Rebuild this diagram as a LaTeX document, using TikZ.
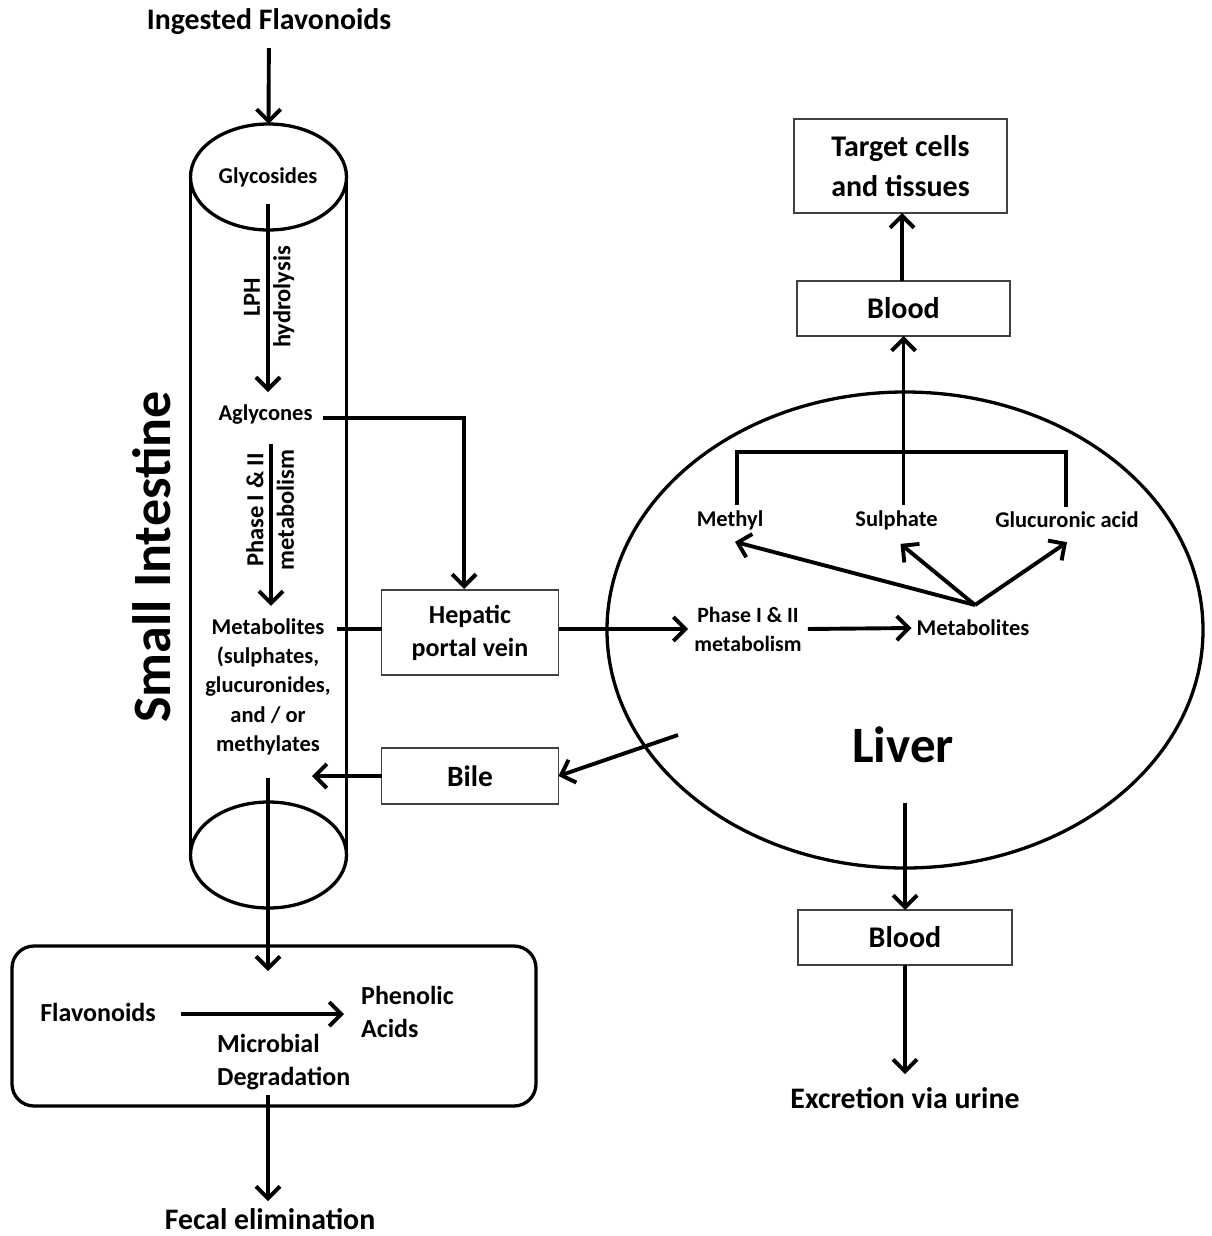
\documentclass[tikz,border=0pt]{standalone}
\usepackage{fontspec}
\setmainfont{Carlito}
\usetikzlibrary{arrows.meta,shapes.geometric,calc}

\tikzset{
  lbl/.style={font=\bfseries\fontsize{22.5}{29.4}\selectfont, inner sep=0pt, align=center},
  midlbl/.style={font=\bfseries\fontsize{26}{33}\selectfont, inner sep=0pt, align=left},
  biglbl/.style={font=\bfseries\fontsize{29.8}{40}\selectfont, inner sep=0pt, align=center},
  sidelbl/.style={font=\bfseries\fontsize{24.5}{30.5}\selectfont, rotate=90, align=center, inner sep=0pt},
  arr/.style={line width=3.9pt, -{Straight Barb[length=12pt,width=24pt,line width=3.9pt]}},
  link/.style={line width=3.9pt},
  rim/.style={draw, line width=3.3pt, ellipse, inner sep=0pt, outer sep=0pt},
  boxed/.style={draw=black!75, line width=1.4pt, minimum width=177pt, inner sep=0pt, outer sep=0pt,
                font=\bfseries\fontsize{26}{33}\selectfont, align=center},
  bloodbox/.style={boxed, minimum width=213pt, font=\bfseries\fontsize{30}{40}\selectfont},
}

\begin{document}
\begin{tikzpicture}[x=1pt,y=-1pt]
\useasboundingbox (0,0) rectangle (1211,1236);

% ---------- small intestine (cylinder) ----------
\node[rim, minimum width=156pt, minimum height=106pt] (topEll) at (268.5,177) {};
\node[rim, minimum width=156pt, minimum height=106pt] (botEll) at (268.5,855) {};
\draw[line width=3.3pt] (topEll.west) -- (botEll.west);
\draw[line width=3.3pt] (topEll.east) -- (botEll.east);

\node[font=\bfseries\fontsize{54}{60}\selectfont, rotate=90, inner sep=0pt] (si) at (152,557) {Small Intestine};

\node[biglbl] (ingest) at (269,22) {Ingested Flavonoids};
\draw[arr, shorten <=13pt] (ingest) -- (topEll.north);

\node[lbl] (glyc) at (268,177) {Glycosides};
\node[lbl] (agly) at (265.5,415) {Aglycones};
\draw[arr, shorten <=17pt, shorten >=13pt] (glyc.south -| 268,0) -- (agly.north -| 268,0);
\node[sidelbl] (lph) at (269,297) {LPH\\hydrolysis};

\node[lbl] (metab) at (268,627) {Metabolites};
\node[lbl] (metabList) at (268,701) {(sulphates,\\glucuronides,\\and / or\\methylates};
\draw[arr, shorten <=19pt, shorten >=13pt] (agly.south -| 271,0) -- (metab.north -| 271,0);
\node[sidelbl] (ph1) at (270,510) {Phase I \& II\\metabolism};

% ---------- portal vein and bile ----------
\node[boxed, minimum height=85pt] (hpv) at (470,632.5) {Hepatic\\portal vein};
\node[boxed, minimum height=56pt, font=\bfseries\fontsize{29.5}{36}\selectfont] (bile) at (470,776) {Bile};

\coordinate (aglyOut) at (323,418);
\draw[link] (aglyOut) -| (464,578);
\draw[arr] (464,570) -- (464,589);
\draw[link] ($(metab.east)+(13,2)$) -- (hpv.west |- 0,629);

\coordinate (bileIn) at (312,776);
\draw[arr] (bile.west) -- (bileIn);

% ---------- liver ----------
\node[rim, minimum width=596pt, minimum height=476pt] (liver) at (905,630) {};
\node[font=\bfseries\fontsize{51}{56}\selectfont, inner sep=0pt] (liverLbl) at (903,745) {Liver};

\node[lbl, font=\bfseries\fontsize{21.8}{29}\selectfont] (lphase) at (748,629) {Phase I \& II\\metabolism};
\node[lbl] (lmetab) at (973,628) {Metabolites};
\draw[arr] (hpv.east |- 0,629) -- ($(lphase.west)+(-6,0)$);
\draw[arr] ($(lphase.east)+(6,0)$) -- ($(lmetab.west)+(-5,0)$);

\coordinate (branch) at (975,605);
\node[lbl] (methyl) at (730,520) {Methyl};
\node[lbl] (sulph) at (896.5,520) {Sulphate};
\node[lbl] (gluc) at (1067,520) {Glucuronic acid};
\draw[arr] (branch) -- ($(methyl.south)+(5,12)$);
\draw[arr] (branch) -- ($(sulph.south)+(4,14)$);
\draw[arr] (branch) -- ($(gluc.south)+(0,14)$);

\coordinate (bar) at (902,452);
\draw[link] ($(methyl.north)+(7,-5)$) |- (bar) -| ($(gluc.north)+(-1,-5)$);

\node[bloodbox, minimum height=55pt] (blood1) at (903.5,308.5) {Blood};
\node[bloodbox, minimum height=94pt] (target) at (900.5,166) {Target cells\\and tissues};
\draw[arr] (blood1.south |- 0,505) -- (blood1.south);
\draw[arr] (blood1.north -| 902,0) -- (target.south -| 902,0);

\coordinate (bileOut) at (678,735);
\draw[arr] (bileOut) -- (bile.east);

\coordinate (liverOut) at (905,803);
\node[bloodbox, minimum width=214pt, minimum height=55pt] (blood2) at (905,937.5) {Blood};
\draw[arr] (liverOut) -- (blood2.north);
\node[biglbl] (urine) at (905,1098) {Excretion via urine};
\draw[arr, shorten >=13pt] (blood2.south) -- (urine.north);

% ---------- colon / microbial degradation ----------
\node[draw, line width=3.3pt, rounded corners=22pt, minimum width=524pt, minimum height=160pt, inner sep=0pt] (colon) at (274,1026) {};
\coordinate (siExit) at (268,778);
\coordinate (colonIn) at (268,971);
\draw[arr] (siExit) -- (colonIn);

\node[midlbl] (flav) at (98,1012) {Flavonoids};
\node[midlbl, anchor=west] (phen) at (361,1011.5) {Phenolic\\Acids};
\node[midlbl, anchor=west] (micro) at (217,1062.5) {Microbial\\Degradation};
\draw[arr] ($(flav.east)+(25,2)$) -- ($(phen.west |- flav.east)+(-17,2)$);

\node[biglbl] (fecal) at (270,1219) {Fecal elimination};
\coordinate (colonOut) at (268,1095);
\draw[arr, shorten >=7pt] (colonOut) -- (fecal.north -| colonOut);
\end{tikzpicture}
\end{document}
